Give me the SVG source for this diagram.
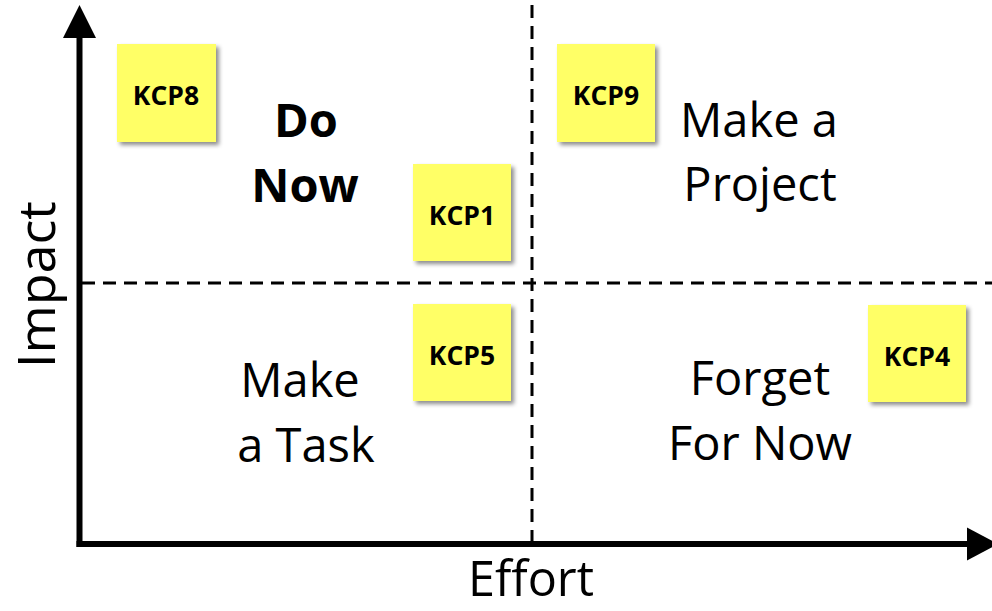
<svg xmlns="http://www.w3.org/2000/svg" width="992" height="611" viewBox="0 0 992 611">
  <style>
    .label { font-family: "Open Sans", "Liberation Sans", sans-serif; font-size: 47px; fill: #000; text-anchor: middle; }
    .bold { font-weight: bold; }
    .note rect { fill: #FFFF66; filter: url(#shadow); }
    .note text { font-family: "Open Sans", "Liberation Sans", sans-serif; font-size: 26.5px; font-weight: bold; fill: #000; text-anchor: middle; }
    .axis { stroke: #000; stroke-width: 6; fill: none; }
    .divider { stroke: #000; stroke-width: 3; stroke-dasharray: 13 8; fill: none; }
  </style>
  <defs>
    <filter id="shadow" x="-10%" y="-10%" width="130%" height="130%">
      <feDropShadow dx="3" dy="3" stdDeviation="2" flood-color="#000" flood-opacity="0.45"/>
    </filter>
  </defs>
  <rect width="992" height="611" fill="#fff"/>

  <!-- quadrant dividers and axes -->
  <g id="connectors">
    <line class="divider" x1="532" y1="5" x2="532" y2="544"/>
    <line class="divider" x1="82" y1="283" x2="992" y2="283"/>
    <line class="axis" x1="79.5" y1="36" x2="79.5" y2="547"/>
    <line class="axis" x1="76.5" y1="544" x2="970" y2="544"/>
    <polygon points="79.5,5 63,38 96,38" fill="#000"/>
    <polygon points="998,544 967,527.5 967,560.5" fill="#000"/>
  </g>

  <!-- axis titles -->
  <g id="axis-labels">
    <text class="label" x="531" y="596" style="font-size:48.5px">Effort</text>
    <text class="label" transform="translate(55,284.5) rotate(-90)" style="font-size:52px">Impact</text>
  </g>

  <!-- quadrant titles -->
  <g id="quadrant-do-now">
    <text class="label bold" x="306" y="137">Do</text>
    <text class="label bold" x="305" y="202">Now</text>
  </g>
  <g id="quadrant-project">
    <text class="label" x="759" y="137">Make a</text>
    <text class="label" x="760" y="201">Project</text>
  </g>
  <g id="quadrant-task">
    <text class="label" x="300" y="397">Make</text>
    <text class="label" x="306" y="462">a Task</text>
  </g>
  <g id="quadrant-forget">
    <text class="label" x="760" y="395">Forget</text>
    <text class="label" x="760" y="460">For Now</text>
  </g>

  <!-- sticky notes -->
  <g id="kcp8" class="note">
    <rect x="117" y="44" width="99" height="98"/>
    <text x="166" y="105">KCP8</text>
  </g>
  <g id="kcp9" class="note">
    <rect x="557" y="44" width="98" height="98"/>
    <text x="606" y="105">KCP9</text>
  </g>
  <g id="kcp1" class="note">
    <rect x="413" y="164" width="98" height="97"/>
    <text x="462" y="225">KCP1</text>
  </g>
  <g id="kcp5" class="note">
    <rect x="413" y="304" width="98" height="97"/>
    <text x="462" y="365">KCP5</text>
  </g>
  <g id="kcp4" class="note">
    <rect x="868" y="305" width="98" height="97"/>
    <text x="917" y="366">KCP4</text>
  </g>
</svg>
